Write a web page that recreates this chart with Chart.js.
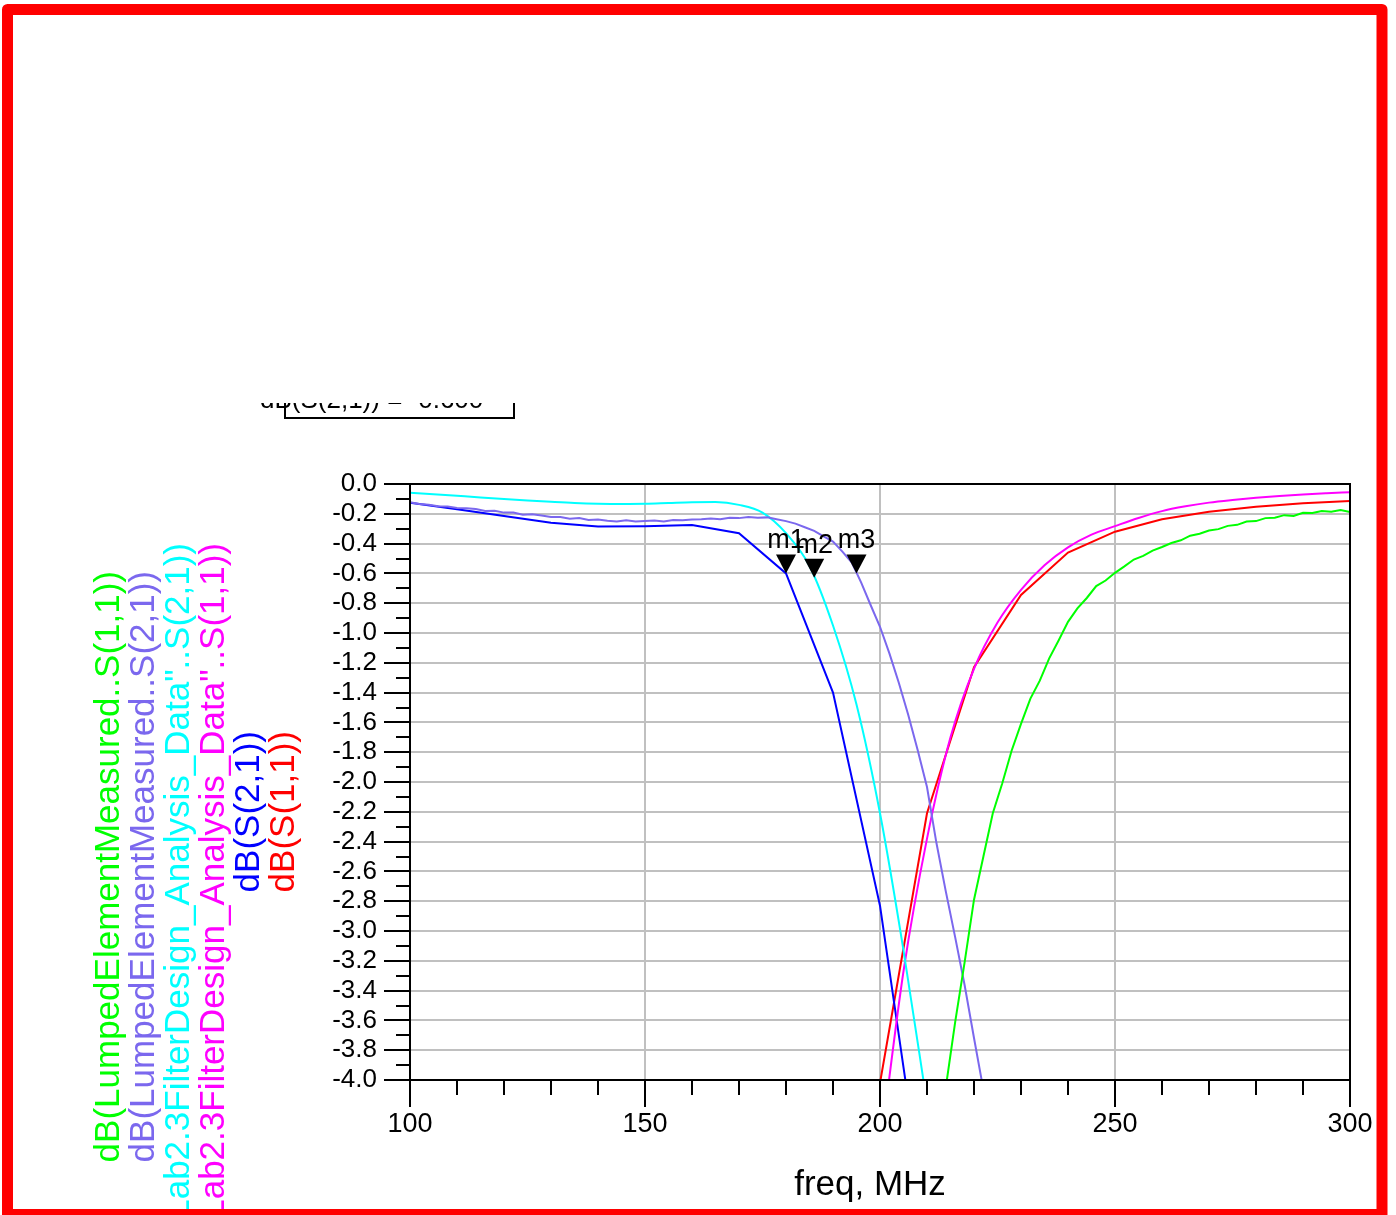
<!DOCTYPE html>
<html>
<head>
<meta charset="utf-8">
<title>Filter S-parameters</title>
<script src="https://cdn.jsdelivr.net/npm/chart.js@4.4.1/dist/chart.umd.min.js"></script>
<style>
  html, body { margin: 0; padding: 0; background: #fff; }
  canvas { display: block; }
</style>
</head>
<body>
<canvas id="sparamChart" width="1396" height="1215"></canvas>
<script>
// simulated lumped design, 10 MHz sweep
const simS21Freq = [100, 110, 120, 130, 140, 150, 160, 170, 180, 190, 200, 210];
const simS21 = [-0.125, -0.17, -0.215, -0.26, -0.285, -0.283, -0.275, -0.33, -0.60, -1.40, -2.83, -5.0];
const simS11Freq = [200, 210, 220, 230, 240, 250, 260, 270, 280, 290, 300];
const simS11 = [-4.02, -2.21, -1.23, -0.745, -0.46, -0.32, -0.236, -0.186, -0.152, -0.13, -0.114];

// Lab2.3 filter design analysis data, 5 MHz sweep
const anaS21Freq = [100, 105, 110, 115, 120, 125, 130, 135, 140, 145, 150, 155, 160, 165, 170, 175, 180, 185, 190, 195, 200, 205, 210];
const anaS21 = [-0.058, -0.068, -0.079, -0.09, -0.10, -0.11, -0.119, -0.127, -0.132, -0.134, -0.133, -0.128, -0.123, -0.121, -0.14, -0.192, -0.33, -0.55, -0.95, -1.48, -2.21, -3.13, -4.16];
const anaS11Freq = [200, 205, 210, 215, 220, 225, 230, 235, 240, 245, 250, 255, 260, 265, 270, 275, 280, 285, 290, 295, 300];
const anaS11 = [-4.48, -3.27, -2.38, -1.70, -1.24, -0.93, -0.71, -0.545, -0.425, -0.34, -0.283, -0.228, -0.182, -0.15, -0.125, -0.107, -0.092, -0.08, -0.07, -0.062, -0.055];

// measured lumped element board
const measS21Freq = [100, 102, 104, 106, 108, 110, 112, 114, 116, 118, 120, 122, 124, 126, 128, 130, 132, 134, 136, 138, 140, 142, 144, 146, 148, 150, 152, 154, 156, 158, 160, 162, 164, 166, 168, 170, 172, 174, 176, 178, 180, 182, 184, 186, 188, 190, 192, 194, 196, 198, 200, 202, 204, 206, 208, 210, 212, 214, 216, 218, 220, 222];
const measS21 = [-0.122, -0.134, -0.139, -0.149, -0.151, -0.161, -0.163, -0.168, -0.181, -0.179, -0.192, -0.191, -0.207, -0.203, -0.211, -0.222, -0.221, -0.233, -0.229, -0.241, -0.239, -0.247, -0.252, -0.243, -0.252, -0.248, -0.245, -0.251, -0.241, -0.243, -0.238, -0.236, -0.231, -0.236, -0.226, -0.229, -0.221, -0.226, -0.224, -0.237, -0.249, -0.266, -0.29, -0.315, -0.351, -0.386, -0.454, -0.527, -0.662, -0.812, -0.958, -1.137, -1.334, -1.548, -1.783, -2.034, -2.408, -2.734, -3.043, -3.362, -3.718, -4.065];
const measS11Freq = [214, 216, 218, 220, 222, 224, 226, 228, 230, 232, 234, 236, 238, 240, 242, 244, 246, 248, 250, 252, 254, 256, 258, 260, 262, 264, 266, 268, 270, 272, 274, 276, 278, 280, 282, 284, 286, 288, 290, 292, 294, 296, 298, 300];
const measS11 = [-4.05, -3.61, -3.21, -2.79, -2.50, -2.21, -2.01, -1.79, -1.61, -1.44, -1.32, -1.17, -1.05, -0.925, -0.835, -0.765, -0.685, -0.648, -0.596, -0.553, -0.507, -0.482, -0.447, -0.423, -0.396, -0.378, -0.347, -0.334, -0.312, -0.303, -0.281, -0.274, -0.252, -0.249, -0.229, -0.226, -0.209, -0.214, -0.193, -0.195, -0.181, -0.186, -0.174, -0.188];

// markers (on simulated S21, analysis S21, measured S21)
const markerNames = ["m1", "m2", "m3"];
const markerFreq = [180, 186, 195];
const markerDb = [-0.60, -0.63, -0.60];

// axes
const xMin = 100, xMax = 300, xMinorStep = 10, xMajorStep = 50;
const yMin = -4.0, yMax = 0.0, yMinorStep = 0.1;

const traceNames = [
  'dB(LumpedElementMeasured..S(1,1))',
  'dB(LumpedElementMeasured..S(2,1))',
  'dB("Lab2.3FilterDesign_Analysis_Data"..S(2,1))',
  'dB("Lab2.3FilterDesign_Analysis_Data"..S(1,1))',
  'dB(S(2,1))',
  'dB(S(1,1))',
];
const traceColors = ["#00ff00", "#7b68ee", "#00ffff", "#ff00ff", "#0000ff", "#ff0000"];

const FONT = "'Liberation Sans', Arial, sans-serif";

const toPoints = (xs, ys) => xs.map((f, i) => ({ x: f, y: ys[i] }));

const makeSet = (idx, xs, ys, smooth) => ({
  label: traceNames[idx],
  data: toPoints(xs, ys),
  borderColor: traceColors[idx],
  borderWidth: 2,
  pointRadius: 0,
  fill: false,
  cubicInterpolationMode: smooth ? "monotone" : "default",
  tension: 0,
});

// ticks, frame, markers and text labels
const decorations = {
  id: "decorations",
  afterDraw(chart) {
    const { ctx, chartArea: a, scales: { x, y } } = chart;
    ctx.save();

    ctx.strokeStyle = "#000";
    ctx.lineWidth = 2;
    ctx.beginPath();
    const nY = Math.round((yMax - yMin) / yMinorStep);
    for (let i = 0; i <= nY; i++) {
      const py = Math.round(y.getPixelForValue(yMin + i * yMinorStep));
      const len = i % 2 === 0 ? 26 : 14;
      ctx.moveTo(a.left - len, py);
      ctx.lineTo(a.left, py);
    }
    for (let f = xMin; f <= xMax; f += xMinorStep) {
      const px = Math.round(x.getPixelForValue(f));
      const len = f % xMajorStep === 0 ? 27 : 15;
      ctx.moveTo(px, a.bottom);
      ctx.lineTo(px, a.bottom + len);
    }
    ctx.stroke();
    ctx.strokeRect(a.left, a.top, a.right - a.left, a.bottom - a.top);

    // markers: tip sits on the trace value
    ctx.fillStyle = "#000";
    ctx.font = "27px " + FONT;
    ctx.textAlign = "center";
    ctx.textBaseline = "alphabetic";
    markerNames.forEach((name, i) => {
      const px = x.getPixelForValue(markerFreq[i]);
      const py = y.getPixelForValue(markerDb[i]);
      ctx.beginPath();
      ctx.moveTo(px, py);
      ctx.lineTo(px - 10, py - 19);
      ctx.lineTo(px + 10, py - 19);
      ctx.closePath();
      ctx.fill();
      ctx.fillText(name, px, py - 25);
    });

    // axis title
    ctx.font = "35px " + FONT;
    ctx.fillText("freq, MHz", 870, 1195);

    // trace names, rotated
    const baseX = [119, 154, 189, 224, 259, 294];
    const topY = [571, 571, 543, 543, 731, 731];
    ctx.textAlign = "right";
    traceNames.forEach((t, i) => {
      ctx.save();
      ctx.translate(baseX[i], topY[i]);
      ctx.rotate(-Math.PI / 2);
      ctx.fillStyle = traceColors[i];
      ctx.fillText(t, 0, 0);
      ctx.restore();
    });

    // marker readout box (partly hidden)
    ctx.save();
    ctx.beginPath();
    ctx.rect(0, 403, chart.width, 20);
    ctx.clip();
    ctx.fillStyle = "#000";
    ctx.font = "26px " + FONT;
    ctx.textAlign = "left";
    ctx.fillText("dB(S(2,1)) = -0.600", 260, 408);
    ctx.beginPath();
    ctx.moveTo(285, 403);
    ctx.lineTo(285, 418);
    ctx.lineTo(514, 418);
    ctx.lineTo(514, 403);
    ctx.stroke();
    ctx.restore();

    // page frame
    ctx.strokeStyle = "#ff0000";
    ctx.lineWidth = 11;
    ctx.lineJoin = "round";
    ctx.strokeRect(7.5, 9.5, 1374.5, 1205);

    ctx.restore();
  },
};

new Chart(document.getElementById("sparamChart"), {
  type: "line",
  data: {
    datasets: [
      makeSet(0, measS11Freq, measS11, false),
      makeSet(1, measS21Freq, measS21, false),
      makeSet(2, anaS21Freq, anaS21, true),
      makeSet(3, anaS11Freq, anaS11, true),
      makeSet(4, simS21Freq, simS21, false),
      makeSet(5, simS11Freq, simS11, false),
    ],
  },
  options: {
    responsive: false,
    animation: false,
    layout: { padding: { top: 484, right: 46, bottom: 0, left: 0 } },
    plugins: { legend: { display: false }, tooltip: { enabled: false } },
    scales: {
      x: {
        type: "linear",
        min: xMin,
        max: xMax,
        afterFit: (s) => {
          s.height = 135;
          s.paddingLeft = 0;
          s.paddingRight = 0;
        },
        border: { display: false },
        grid: {
          drawTicks: false,
          lineWidth: 2,
          color: (c) => (c.tick.value % xMajorStep === 0 ? "#c0c0c0" : "rgba(0,0,0,0)"),
        },
        ticks: {
          stepSize: xMinorStep,
          autoSkip: false,
          maxRotation: 0,
          padding: 28,
          color: "#000",
          font: { family: FONT, size: 27 },
          callback: (v) => (v % xMajorStep === 0 ? String(v) : ""),
        },
      },
      y: {
        min: yMin,
        max: yMax,
        afterFit: (s) => {
          s.width = 410;
          s.paddingTop = 0;
          s.paddingBottom = 0;
        },
        border: { display: false },
        grid: {
          drawTicks: false,
          lineWidth: 2,
          color: (c) => (Math.round(c.tick.value * 10) % 2 === 0 ? "#c0c0c0" : "rgba(0,0,0,0)"),
        },
        ticks: {
          stepSize: yMinorStep,
          autoSkip: false,
          padding: 33,
          color: "#000",
          font: { family: FONT, size: 26 },
          callback: (v) => (Math.round(v * 10) % 2 === 0 ? (Math.abs(v) < 1e-9 ? "0.0" : v.toFixed(1)) : ""),
        },
      },
    },
  },
  plugins: [decorations],
});
</script>
</body>
</html>
